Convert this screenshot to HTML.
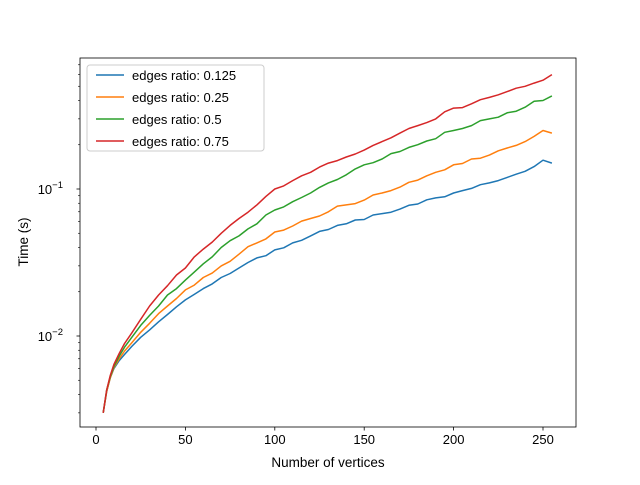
<!DOCTYPE html>
<html><head><meta charset="utf-8"><style>
body{margin:0;background:#fff;}
svg{font-family:"Liberation Sans","DejaVu Sans",sans-serif;}
</style></head><body>
<svg id="chart" width="640" height="480" viewBox="0 0 640 480">
<rect x="0" y="0" width="640" height="480" fill="#fff"/>
<g id="plot"></g>
<g id="axes"></g>
<rect x="80" y="58" width="496" height="369" fill="none" stroke="#000" stroke-width="0.8"/>
<text x="328" y="467" font-size="13.5" text-anchor="middle">Number of vertices</text>
<text transform="translate(28,242) rotate(-90)" font-size="13.5" text-anchor="middle">Time (s)</text>
<g id="legend"></g>
</svg>
<script>
const vertices=[4,6,8,10,13,16,20,25,30,35,40,45,50,55,60,65,70,75,80,85,90,95,100,105,110,115,120,125,130,135,140,145,150,155,160,165,170,175,180,185,190,195,200,205,210,215,220,225,230,235,240,245,250,255];
const seriesNames=["edges ratio: 0.125","edges ratio: 0.25","edges ratio: 0.5","edges ratio: 0.75"];
const s0125=[0.003,0.0042,0.0052,0.006,0.0068,0.0075,0.0085,0.0098,0.011,0.0125,0.014,0.0158,0.0176,0.0192,0.021,0.0226,0.025,0.0266,0.029,0.0316,0.034,0.0352,0.0385,0.0398,0.043,0.0448,0.048,0.0515,0.053,0.0565,0.058,0.0615,0.062,0.0665,0.068,0.0695,0.073,0.0775,0.079,0.0845,0.087,0.0885,0.094,0.0975,0.101,0.107,0.11,0.114,0.12,0.126,0.132,0.142,0.157,0.15];
const s025=[0.003,0.0042,0.0052,0.0061,0.007,0.0079,0.009,0.0106,0.0122,0.0142,0.016,0.018,0.0206,0.0222,0.025,0.0268,0.030,0.0322,0.036,0.0405,0.043,0.0458,0.051,0.0525,0.056,0.0605,0.063,0.0655,0.070,0.0765,0.078,0.0795,0.084,0.091,0.094,0.0975,0.103,0.111,0.115,0.123,0.13,0.135,0.146,0.149,0.16,0.162,0.17,0.182,0.19,0.198,0.21,0.228,0.25,0.24];
const s05=[0.003,0.0043,0.0053,0.0062,0.0073,0.0084,0.0098,0.0118,0.0138,0.016,0.019,0.021,0.024,0.0272,0.031,0.0345,0.040,0.0445,0.048,0.0535,0.058,0.0665,0.072,0.0755,0.082,0.0875,0.094,0.1025,0.11,0.116,0.125,0.137,0.146,0.151,0.16,0.174,0.18,0.192,0.2,0.212,0.22,0.243,0.25,0.258,0.27,0.292,0.3,0.308,0.33,0.338,0.36,0.395,0.40,0.43];
const s075=[0.003,0.0043,0.0054,0.0064,0.0076,0.0089,0.0105,0.013,0.016,0.019,0.022,0.026,0.029,0.0345,0.039,0.0435,0.05,0.0565,0.063,0.0695,0.078,0.089,0.1,0.105,0.114,0.123,0.13,0.141,0.15,0.156,0.165,0.173,0.184,0.198,0.21,0.223,0.24,0.258,0.27,0.283,0.3,0.335,0.355,0.358,0.38,0.405,0.42,0.437,0.46,0.485,0.5,0.525,0.55,0.6];
const xTicks=[0,50,100,150,200,250];
const yMajor=[0.01,0.1];
const yMajorLabels=["10","10"];
const yMajorExp=["−2","−1"];
const colors=["#1f77b4","#ff7f0e","#2ca02c","#d62728"];
const NS="http://www.w3.org/2000/svg";
function X(v){return 96+(v)*1.788;}
function Y(v){return 336-(Math.log10(v)+2)*147;}
function mk(t,a,p){const e=document.createElementNS(NS,t);for(const k in a)e.setAttribute(k,a[k]);p.appendChild(e);return e;}
const plot=document.getElementById('plot'),axes=document.getElementById('axes'),legend=document.getElementById('legend');
const allSeries=[s0125,s025,s05,s075];
allSeries.forEach((s,i)=>{
 const d=s.map((v,j)=>(j?'L':'M')+X(vertices[j]).toFixed(1)+','+Y(v).toFixed(1)).join('');
 const p=mk('path',{d:d,fill:'none',stroke:colors[i],'stroke-width':1.5,'stroke-linejoin':'round'},plot);
 
 
});
xTicks.forEach(t=>{
 const l=mk('line',{x1:X(t),x2:X(t),y1:427,y2:430.5,stroke:'#000','stroke-width':0.8},axes);
 
 
 const tx=mk('text',{x:X(t),y:444,'font-size':13,'text-anchor':'middle'},axes);
 tx.textContent=t;
 
 
});
yMajor.forEach((t,i)=>{
 const y=Y(t);
 const l=mk('line',{x1:76.5,x2:80,y1:y,y2:y,stroke:'#000','stroke-width':0.8},axes);
 
 
 const tx=mk('text',{x:63,y:y+5,'font-size':13,'text-anchor':'end'},axes);
 
 
 tx.textContent=yMajorLabels[i];
 const sp=mk('tspan',{dy:-6,'font-size':9.5},tx);sp.textContent=yMajorExp[i];
});
for(const dec of [0.001,0.01,0.1]){for(let m=2;m<=9;m++){const v=dec*m;const y=Y(v);if(y<58||y>427)continue;
 const l=mk('line',{x1:78,x2:80,y1:y,y2:y,stroke:'#000','stroke-width':0.6},axes);
 
 }}
const box=mk('rect',{x:87,y:65,width:177,height:86,rx:3,fill:'#fff','fill-opacity':0.8,stroke:'#ccc','stroke-width':1},legend);


seriesNames.forEach((n,i)=>{
 const y=75+i*22;
 const l=mk('line',{x1:96,x2:124,y1:y,y2:y,stroke:colors[i],'stroke-width':1.5},legend);
 
 
 const t=mk('text',{x:132,y:y+5,'font-size':13},legend);
 t.textContent=n;
 
 
});
</script>
</body></html>
